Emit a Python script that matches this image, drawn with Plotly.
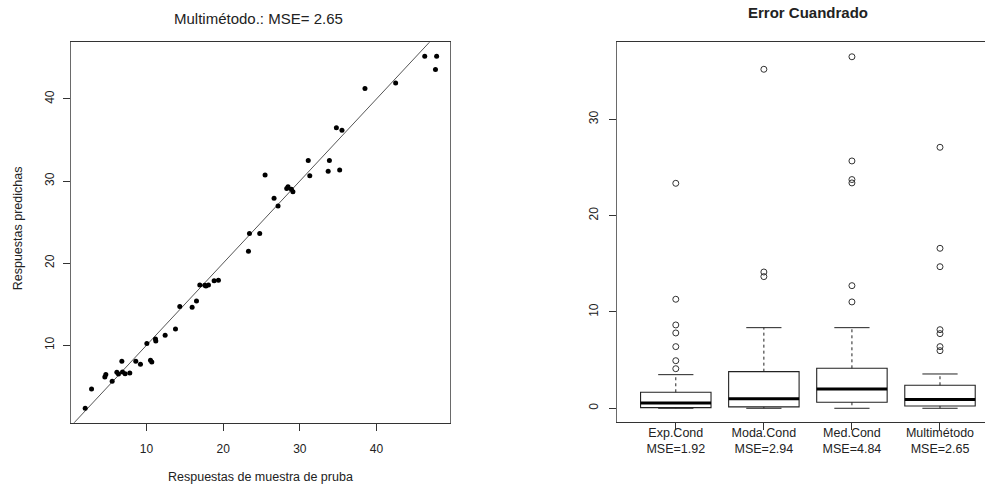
import plotly.graph_objects as go

# ---- Left panel: observed vs predicted (test sample) ----
observed = [2.0, 2.83, 4.56, 4.69, 5.52, 6.13, 6.34, 6.78, 6.87, 7.21, 7.82, 8.6, 9.21,
            10.04, 10.52, 10.69, 11.17, 11.21, 12.43, 13.78, 14.34, 15.95, 16.52, 16.95,
            17.6, 17.75, 18.08, 18.82, 19.38, 23.3, 23.43, 24.77, 25.47, 26.64, 27.16,
            28.29, 28.46, 28.9, 29.1, 31.1, 31.3, 33.7, 33.86, 35.2, 34.77, 35.5, 38.5,
            42.5, 46.3, 47.85, 47.7]
predicted = [2.32, 4.67, 6.13, 6.42, 5.6, 6.7, 6.5, 8.05, 6.74, 6.54, 6.62, 8.05, 7.68,
             10.2, 8.17, 7.96, 10.77, 10.52, 11.22, 11.99, 14.71, 14.63, 15.4, 17.35,
             17.32, 17.2, 17.35, 17.84, 17.93, 21.46, 23.6, 23.6, 30.73, 27.9, 26.95,
             29.1, 29.3, 29.0, 28.7, 32.5, 30.65, 31.2, 32.5, 31.34, 36.5, 36.2, 41.26,
             41.95, 45.2, 45.2, 43.6]
left_ticks = [10, 20, 30, 40]

# ---- Right panel: squared error by method ----
methods = ["Exp.Cond", "Moda.Cond", "Med.Cond", "Multimétodo"]
mse = [1.92, 2.94, 4.84, 2.65]
q1 = [0.07, 0.14, 0.62, 0.24]
median = [0.55, 1.0, 2.0, 0.9]
q3 = [1.66, 3.8, 4.15, 2.39]
lower_whisker = [0.0, 0.0, 0.0, 0.0]
upper_whisker = [3.49, 8.37, 8.37, 3.56]
outliers = [
    [4.11, 4.94, 6.4, 7.82, 8.65, 11.32, 23.36],
    [13.67, 14.15, 35.2],
    [11.04, 12.73, 23.4, 23.75, 25.68, 36.5],
    [5.98, 6.4, 7.75, 8.16, 14.7, 16.61, 27.1],
]
right_ticks = [0, 10, 20, 30]

FONT = "Liberation Sans, Arial, sans-serif"
INK = "#222222"
BOX_W = 0.8
CAP_W = 0.4

fig = go.Figure()

# identity line y = x
fig.add_trace(go.Scatter(x=[0, 50], y=[0, 50], mode="lines",
                         line=dict(color="#555555", width=1),
                         xaxis="x", yaxis="y", showlegend=False, hoverinfo="skip"))
fig.add_trace(go.Scatter(x=observed, y=predicted, mode="markers",
                         marker=dict(color="black", size=5),
                         xaxis="x", yaxis="y", showlegend=False))

positions = [1, 2, 3, 4]
for i, p in enumerate(positions):
    # box body (whiskers drawn separately, dashed)
    fig.add_trace(go.Box(x=[p], q1=[q1[i]], median=[median[i]], q3=[q3[i]],
                         lowerfence=[q1[i]], upperfence=[q3[i]],
                         width=BOX_W, whiskerwidth=0, fillcolor="white",
                         line=dict(color="#222222", width=1.1),
                         boxpoints=False, xaxis="x2", yaxis="y2",
                         showlegend=False, hoverinfo="skip"))
    # dashed whiskers
    fig.add_trace(go.Scatter(x=[p, p, None, p, p],
                             y=[q3[i], upper_whisker[i], None, q1[i], lower_whisker[i]],
                             mode="lines", line=dict(color="#222222", width=1, dash="3px,3px"),
                             xaxis="x2", yaxis="y2", showlegend=False, hoverinfo="skip"))
    # whisker caps
    fig.add_trace(go.Scatter(x=[p - CAP_W / 2, p + CAP_W / 2, None, p - CAP_W / 2, p + CAP_W / 2],
                             y=[upper_whisker[i], upper_whisker[i], None,
                                lower_whisker[i], lower_whisker[i]],
                             mode="lines", line=dict(color="#222222", width=1),
                             xaxis="x2", yaxis="y2", showlegend=False, hoverinfo="skip"))
    # thick median
    fig.add_trace(go.Scatter(x=[p - BOX_W / 2, p + BOX_W / 2], y=[median[i], median[i]],
                             mode="lines", line=dict(color="black", width=3),
                             xaxis="x2", yaxis="y2", showlegend=False, hoverinfo="skip"))
    # outliers
    fig.add_trace(go.Scatter(x=[p] * len(outliers[i]), y=outliers[i], mode="markers",
                             marker=dict(symbol="circle-open", size=6,
                                         color="#333333", line=dict(width=1)),
                             xaxis="x2", yaxis="y2", showlegend=False, hoverinfo="skip"))

tick_font = dict(family=FONT, size=12, color=INK)
common = dict(showgrid=False, zeroline=False, showline=True, ticks="outside",
              ticklen=7, tickcolor="#333333", tickfont=tick_font)

fig.update_layout(
    width=985, height=487,
    margin=dict(l=0, r=0, t=0, b=0),
    paper_bgcolor="white", plot_bgcolor="white",
    font=dict(family=FONT, color=INK),
    xaxis=dict(domain=[0.0721, 0.4569], range=[0.15, 49.6], tickvals=left_ticks,
               mirror=True, linecolor="#333333", linewidth=1, anchor="y",
               ticklabelstandoff=8, **common),
    yaxis=dict(domain=[0.1320, 0.9131], range=[0.56, 46.9], tickvals=left_ticks,
               tickangle=-90, mirror=True, linecolor="#6a6a6a", linewidth=1.2, anchor="x",
               ticklabelstandoff=4, **common),
    xaxis2=dict(domain=[0.6264, 1.0], range=[0.3324, 4.511], tickvals=positions,
                ticktext=[f"{m}<br>MSE={v:.2f}" for m, v in zip(methods, mse)],
                mirror=True, linecolor="#333333", linewidth=1, anchor="y2",
                ticklabelstandoff=-8,
                **{**common, "tickfont": dict(family=FONT, size=12.5, color=INK)}),
    yaxis2=dict(domain=[0.1330, 0.9131], range=[-1.45, 38.0], tickvals=right_ticks,
                tickangle=-90, mirror=False, linecolor="#6a6a6a", linewidth=1.2,
                anchor="x2", ticklabelstandoff=6, **common),
    annotations=[
        dict(text="Multimétodo.: MSE= 2.65", x=258, y=487 - 19, showarrow=False,
             font=dict(size=15, family=FONT, color=INK)),
        dict(text="<b>Error Cuandrado</b>", x=808, y=487 - 12.5, showarrow=False,
             font=dict(size=15, family=FONT, color=INK)),
        dict(text="Respuestas de muestra de pruba", x=260, y=487 - 477, showarrow=False,
             font=dict(size=12.5, family=FONT, color=INK)),
        dict(text="Respuestas predichas", x=18.3, y=487 - 228, textangle=-90,
             showarrow=False, font=dict(size=12.5, family=FONT, color=INK)),
    ],
)

# annotation positions are given in pixels; convert to paper fractions
for ann in fig.layout.annotations:
    ann.xref = "paper"
    ann.yref = "paper"
    ann.x = ann.x / 985
    ann.y = ann.y / 487
    ann.xanchor = "center"
    ann.yanchor = "middle"

fig.write_html("out.html")
